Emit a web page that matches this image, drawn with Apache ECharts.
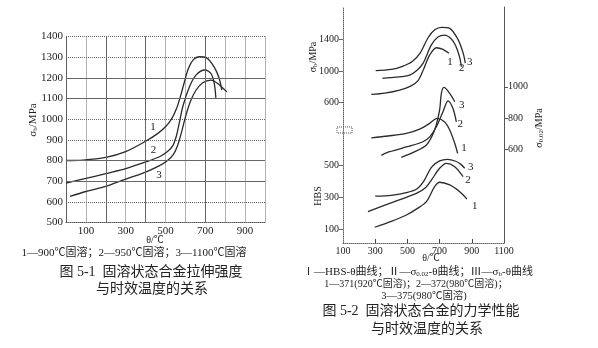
<!DOCTYPE html>
<html><head><meta charset="utf-8">
<script src="https://cdn.jsdelivr.net/npm/echarts@6/dist/echarts.min.js"></script>
<style>html,body{margin:0;padding:0;background:#fff}#c{width:598px;height:348px}</style>
</head><body><div id="c"></div>
<script>
// ---------- Figure 5-1 (left): σb vs ageing temperature ----------
const leftCurve1 = [[0,800],[85,802],[200,815],[300,843],[400,893],[460,930],[500,963],[530,1000],[555,1050],[575,1110],[595,1180],[615,1245],[640,1288],[670,1302],[705,1298],[745,1252],[770,1197],[783,1140]];
const leftCurve2 = [[0,691],[100,713],[200,737],[300,761],[400,793],[470,818],[510,843],[537,872],[555,920],[570,985],[588,1065],[620,1156],[653,1213],[698,1238],[728,1221],[745,1173],[753,1103]];
const leftCurve3 = [[20,626],[100,650],[200,675],[300,710],[400,744],[470,775],[510,800],[540,830],[560,870],[580,935],[600,1010],[625,1085],[653,1140],[687,1176],[728,1189],[762,1173],[808,1132]];
const leftCurveNames = ['1','2','3'];
const leftCurveLabelAt = [[437,963],[440,850],[467,728]];
const leftXLabels = [100,300,500,700,900];

// ---------- Figure 5-2 (right) ----------
// σb (top group)
const sbCurve1 = [[276,706],[360,722],[452,760],[520,810],[566,880],[600,1020],[638,1200],[680,1294],[721,1274],[758,1223]];
const sbCurve2 = [[345,908],[430,922],[514,949],[560,1010],[597,1097],[649,1330],[690,1430],[731,1454],[770,1410],[800,1320],[825,1170],[835,1054]];
const sbCurve3 = [[303,1004],[400,1020],[470,1060],[530,1120],[580,1230],[628,1420],[670,1520],[711,1551],[763,1539],[814,1400],[845,1235],[860,1100]];
const sbLabelAt = [[765,1117],[838,1040],[888,1117]];
const sbTicks = [600,1000,1400];
// σ0.02 (middle group, right axis)
const s02Curve1 = [[276,672],[380,684],[494,701],[580,730],[638,765],[685,797],[730,775],[763,722],[794,637],[812,572]];
const s02Curve2 = [[338,560],[390,583],[500,615],[597,647],[640,680],[680,743],[721,840],[752,910],[783,861],[804,775]];
const s02Curve3 = [[462,547],[540,580],[618,626],[669,722],[700,850],[711,958],[727,996],[763,958],[794,904]];
const s02LabelAt = [[852,606],[829,761],[837,883]];
const s02Ticks = [600,800,1000];
// HBS (bottom group)
const hbsCurve1 = [[297,113],[400,150],[494,190],[560,230],[618,274],[669,368],[700,396],[763,379],[825,336],[870,290]];
const hbsCurve2 = [[255,211],[390,263],[556,326],[610,360],[649,410],[700,484],[742,515],[794,494],[846,431]];
const hbsCurve3 = [[300,309],[400,314],[500,332],[560,355],[603,405],[649,490],[700,530],[750,540],[800,528],[830,510],[856,484]];
const hbsLabelAt = [[918,247],[877,410],[893,494]];
const hbsTicks = [100,300,500];
const rightXLabels = [100,300,500,700,900,1100];
const rightXTicks = [300,500,700,900];

const FONT = "'Liberation Serif','Noto Sans CJK SC',serif";
const TXT = '#222';
const LINE = '#2a2a2a';

function curve(name, data, xi, yi, labelAt) {
  return {
    type: 'line', name: name, xAxisIndex: xi, yAxisIndex: yi, data: data,
    smooth: 0.3, symbol: 'none', silent: true,
    lineStyle: {color: LINE, width: 1.3},
    markPoint: {
      symbol: 'circle', symbolSize: 0, silent: true,
      label: {show: true, formatter: name, color: TXT, fontFamily: FONT, fontSize: 11, position: 'inside'},
      data: [{coord: labelAt}]
    }
  };
}

const series = [];
[leftCurve1, leftCurve2, leftCurve3].forEach((d, i) => series.push(curve(leftCurveNames[i], d, 0, 0, leftCurveLabelAt[i])));
[sbCurve1, sbCurve2, sbCurve3].forEach((d, i) => series.push(curve(String(i+1), d, 1, 1, sbLabelAt[i])));
[s02Curve1, s02Curve2, s02Curve3].forEach((d, i) => series.push(curve(String(i+1), d, 1, 3, s02LabelAt[i])));
[hbsCurve1, hbsCurve2, hbsCurve3].forEach((d, i) => series.push(curve(String(i+1), d, 1, 2, hbsLabelAt[i])));
// solid grid lines of the left figure
series.push({
  type: 'line', xAxisIndex: 0, yAxisIndex: 0, data: [], silent: true,
  markLine: {symbol: 'none', silent: true, label: {show: false},
    lineStyle: {type: 'solid', color: '#666', width: 1},
    data: [{yAxis: 1200}, {yAxis: 1100}, {yAxis: 800}, {yAxis: 700}, {xAxis: 200}, {xAxis: 400}, {xAxis: 700}]}
});

const plain = v => String(v);
const axLbl = {color: TXT, fontFamily: FONT, fontSize: 11, formatter: plain};
const axLbl2 = {color: TXT, fontFamily: FONT, fontSize: 10, formatter: plain};

function txt(x, y, text, size, rot, rich) {
  const o = {type: 'text', x: x, y: y, silent: true,
    style: {text: text, fill: TXT, font: size + 'px ' + FONT, align: 'center', verticalAlign: 'middle',
      textAlign: 'center', textVerticalAlign: 'middle'}};
  if (rot) o.rotation = rot;
  if (rich) o.style.rich = rich;
  return o;
}
const subRich = {sub: {fontSize: 7, fontFamily: FONT, fill: TXT, padding: [5, 0, 0, 0]}};

const option = {
  backgroundColor: '#fff',
  animation: false,
  grid: [
    {left: 66, top: 36.5, width: 199, height: 186},
    {left: 343, top: 7, width: 161, height: 236}
  ],
  xAxis: [
    {type: 'value', gridIndex: 0, min: 0, max: 1000, interval: 100,
     axisLine: {show: true, onZero: false, lineStyle: {color: '#555', type: [1, 1]}},
     axisTick: {show: false},
     axisLabel: Object.assign({customValues: leftXLabels, margin: 3}, axLbl),
     splitLine: {show: true, lineStyle: {color: '#666', type: [1, 1], width: 1}}},
    {type: 'value', gridIndex: 1, min: 100, max: 1100, interval: 200,
     axisLine: {show: true, onZero: false, lineStyle: {color: '#666', type: [1, 1]}},
     axisTick: {show: true, inside: true, length: 4, customValues: rightXTicks, lineStyle: {color: '#444'}},
     axisLabel: Object.assign({customValues: rightXLabels, margin: 3}, axLbl2),
     splitLine: {show: false}}
  ],
  yAxis: [
    {type: 'value', gridIndex: 0, min: 500, max: 1400, interval: 100,
     axisLine: {show: true, onZero: false, lineStyle: {color: '#555', type: [1, 1]}},
     axisTick: {show: false},
     axisLabel: Object.assign({margin: 3}, axLbl),
     splitLine: {show: true, lineStyle: {color: '#666', type: [1, 1], width: 1}}},
    {type: 'value', gridIndex: 1, position: 'left', min: -1170, max: 1808,
     axisLine: {show: true, onZero: false, lineStyle: {color: '#666', type: [1, 1]}},
     axisTick: {show: true, length: 4, customValues: sbTicks, lineStyle: {color: '#666'}},
     axisLabel: Object.assign({customValues: sbTicks, margin: 4}, axLbl2),
     splitLine: {show: false}},
    {type: 'value', gridIndex: 1, position: 'left', min: 14, max: 1498,
     axisLine: {show: false, onZero: false},
     axisTick: {show: true, length: 4, customValues: hbsTicks, lineStyle: {color: '#666'}},
     axisLabel: Object.assign({customValues: hbsTicks, margin: 4}, axLbl2),
     splitLine: {show: false}},
    {type: 'value', gridIndex: 1, position: 'right', min: -3, max: 1512,
     axisLine: {show: true, onZero: false, lineStyle: {color: '#555'}},
     axisTick: {show: true, length: 4, customValues: s02Ticks, lineStyle: {color: '#555'}},
     axisLabel: Object.assign({customValues: s02Ticks, margin: 4}, axLbl2),
     splitLine: {show: false}}
  ],
  graphic: [
    txt(33, 120, 'σ{sub|b}/MPa', 11, Math.PI / 2, subRich),
    txt(155, 240, 'θ/℃', 10),
    txt(134, 253, '1—900℃固溶；2—950℃固溶；3—1100℃固溶', 11),
    txt(151, 272, '图 5-1  固溶状态合金拉伸强度', 14),
    txt(152, 289, '与时效温度的关系', 14),
    txt(313, 57, 'σ{sub|b}/MPa', 10, Math.PI / 2, subRich),
    txt(318, 196, 'HBS', 10, Math.PI / 2),
    txt(539, 128, 'σ{sub|0.02}/MPa', 10, Math.PI / 2, subRich),
    txt(431, 258, 'θ/℃', 10),
    txt(418, 272, 'Ⅰ—HBS-θ曲线；Ⅱ—σ{sub|0.02}-θ曲线；Ⅲ—σ{sub|b}-θ曲线', 11, 0, subRich),
    txt(416, 284, '1—371(920℃固溶)；2—372(980℃固溶)；', 10),
    txt(424, 296, '3—375(980℃固溶)', 10.5),
    txt(421, 311, '图 5-2  固溶状态合金的力学性能', 14),
    txt(427, 329, '与时效温度的关系', 14),
    {type: 'rect', silent: true, shape: {x: 337, y: 127, width: 15, height: 6},
     style: {fill: '#fff', stroke: '#555', lineWidth: 1, lineDash: [1, 1]}}
  ],
  series: series
};
echarts.init(document.getElementById('c')).setOption(option);
</script></body></html>
